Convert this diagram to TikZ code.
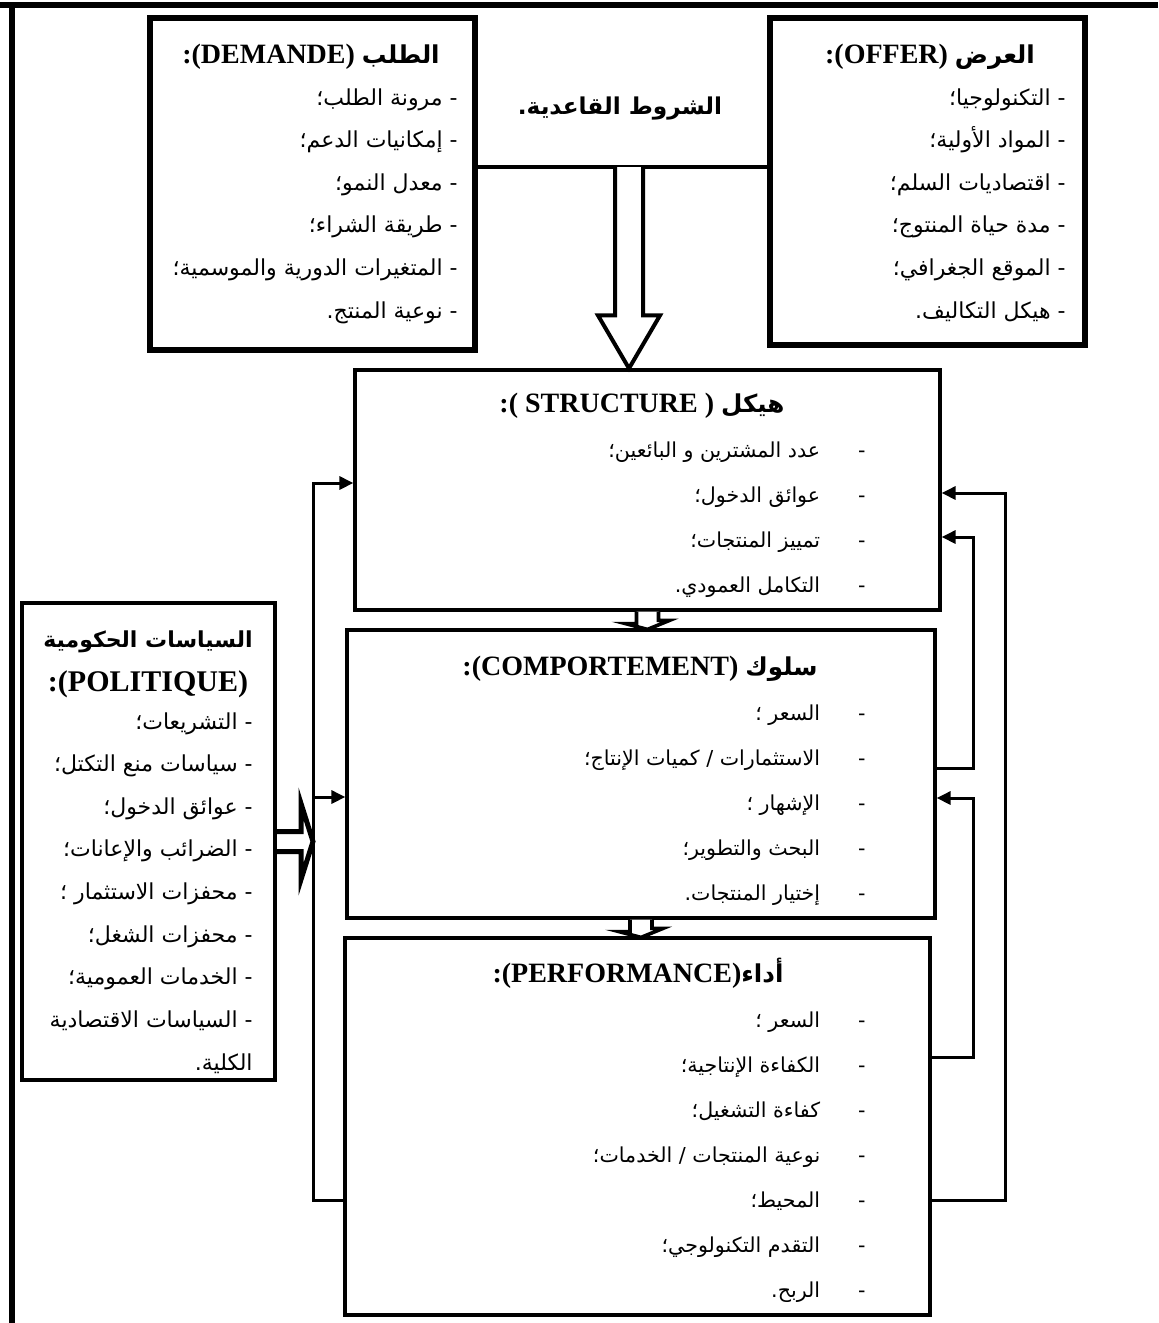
\documentclass[tikz,border=0pt]{standalone}
\usepackage{fontspec}
\setmainfont{Liberation Serif}
\newfontfamily\arabicfont[Script=Arabic]{DejaVu Sans}
\TeXXeTstate=1
\usetikzlibrary{calc,fit}
\usetikzlibrary{arrows.meta}
\newcommand{\arb}[1]{{\arabicfont\bfseries\fontsize{12.3}{14}\selectfont #1}}
\tikzset{
  every picture/.style={
    >={Triangle[length=7pt, width=6.5pt]}
  },
  box/.style={
    draw, inner sep=0pt, line width=1.6pt
  },
  heavy box/.style={box, line width=2.6pt},
  link/.style={line width=1.5pt},
  hollow/.style={line width=2pt, fill=white, line join=miter},
  item/.style={
    anchor=base east, inner sep=0pt,
    font=\arabicfont\fontsize{11}{13}\selectfont
  },
  core item/.style={item, font=\arabicfont\fontsize{10.3}{13}\selectfont},
  head/.style={
    anchor=base, inner sep=0pt,
    font=\rmfamily\bfseries\fontsize{14}{16}\selectfont
  }
}

\begin{document}
\begin{tikzpicture}[x=0.5pt, y=-0.5pt]
  \useasboundingbox (0,0) rectangle (1158,1323);
  \draw[line width=2.6pt] (0,5) -- (1158,5);
  \draw[line width=2.6pt] (12,5) -- (12,1323);

  % boxes
  \node[heavy box, fit={(150,18) (475,350)}] (dem) {};
  \node[heavy box, fit={(770,18) (1085,345)}] (off) {};
  \node[box, fit={(355,370) (940,610)}] (str) {};
  \node[box, fit={(347,630) (935,918)}] (comp) {};
  \node[box, fit={(345,938) (930,1315)}] (perf) {};
  \node[box, line width=2pt, fit={(22,603) (275,1080)}] (pol) {};

  % basic conditions
  \coordinate (base) at (629,167);
  \draw[link, line width=2pt] (dem.east |- base) -- (off.west |- base);
  \node[head, font=\arabicfont\bfseries\fontsize{11.6}{14}\selectfont] (cond) at (620,114) {\beginR الشروط القاعدية.\endR};
  \coordinate (tip) at (base |- str.north);
  \draw[hollow] ($(base)+(-14,0)$) -- ($(tip)+(-14,-53)$) -- ++(-17,0) -- (tip)
    -- ++(31,-53) -- ++(-17,0) -- ($(base)+(14,0)$);

  % demand
  \node[head] (dem-t) at (311,63) {\beginR\arb{الطلب} \beginL(DEMANDE)\endL:\endR};
  \foreach \t [count=\i] in {مرونة الطلب؛,%
    إمكانيات الدعم؛,%
    معدل النمو؛,%
    طريقة الشراء؛,%
    المتغيرات الدورية والموسمية؛,%
    نوعية المنتج.}
    \node[item] (dem-\i) at (458,{105+(\i-1)*42.6}) {\beginR- \t\endR};

  % offer
  \node[head] (off-t) at (930,63) {\beginR\arb{العرض} \beginL(OFFER)\endL:\endR};
  \foreach \t [count=\i] in {التكنولوجيا؛,%
    المواد الأولية؛,%
    اقتصاديات السلم؛,%
    مدة حياة المنتوج؛,%
    الموقع الجغرافي؛,%
    هيكل التكاليف.}
    \node[item] (off-\i) at (1066,{105+(\i-1)*42.6}) {\beginR- \t\endR};

  % structure
  \node[head] (str-t) at (642,412) {\beginR\arb{هيكل} \beginL( STRUCTURE )\endL:\endR};
  \foreach \t [count=\i] in {عدد المشترين و البائعين؛,%
    عوائق الدخول؛,%
    تمييز المنتجات؛,%
    التكامل العمودي.}
    \node[core item] (str-\i) at (866,{457+(\i-1)*45}) {\beginR-\hspace{19pt}\t\endR};

  % conduct
  \node[head] (comp-t) at (640,675) {\beginR\arb{سلوك} \beginL(COMPORTEMENT)\endL:\endR};
  \foreach \t [count=\i] in {السعر ؛,%
    الاستثمارات / كميات الإنتاج؛,%
    الإشهار ؛,%
    البحث والتطوير؛,%
    إختيار المنتجات.}
    \node[core item] (comp-\i) at (866,{720+(\i-1)*45}) {\beginR-\hspace{19pt}\t\endR};

  % performance
  \node[head] (perf-t) at (638,982) {\beginR\arb{أداء}\beginL(PERFORMANCE)\endL:\endR};
  \foreach \t [count=\i] in {السعر ؛,%
    الكفاءة الإنتاجية؛,%
    كفاءة التشغيل؛,%
    نوعية المنتجات / الخدمات؛,%
    المحيط؛,%
    التقدم التكنولوجي؛,%
    الربح.}
    \node[core item] (perf-\i) at (866,{1027+(\i-1)*45}) {\beginR-\hspace{19pt}\t\endR};

  % government policy
  \node[head, font=\arabicfont\bfseries\fontsize{11}{13}\selectfont] (pol-t) at (148,647) {\beginR السياسات الحكومية\endR};
  \node[head, font=\rmfamily\bfseries\fontsize{15}{17}\selectfont] (pol-t2) at (148,691) {\beginR\beginL(POLITIQUE)\endL:\endR};
  \foreach \t [count=\i] in {التشريعات؛,%
    سياسات منع التكتل؛,%
    عوائق الدخول؛,%
    الضرائب والإعانات؛,%
    محفزات الاستثمار ؛,%
    محفزات الشغل؛,%
    الخدمات العمومية؛,%
    السياسات الاقتصادية}
    \node[item] (pol-\i) at (253,{729+(\i-1)*42.6}) {\beginR- \t\endR};
  \node[item] (pol-9) at (253,1070) {\beginR الكلية.\endR};

  % links between the three blocks
  \draw[hollow, line width=1.8pt] ($(str.south)+(-11,0)$) -- ++(0,12) -- ++(-11,0)
    -- ($(str.south |- comp.north)+(0,1)$) -- ++(22,-9) -- ++(-11,0) -- ($(str.south)+(11,0)$);
  \draw[hollow, line width=1.8pt] ($(comp.south)+(-11,0)$) -- ++(0,12) -- ++(-11,0)
    -- ($(comp.south |- perf.north)+(0,1)$) -- ++(22,-9) -- ++(-11,0) -- ($(comp.south)+(11,0)$);

  % feedback, left
  \coordinate (lcorner) at (313,1200);
  \coordinate (str-l) at ($(str.west)+(0,-7)$);
  \coordinate (comp-l) at ($(comp.west)+(0,23)$);
  \draw[link,->] (perf.west |- lcorner) -- (lcorner) |- (str-l);
  \draw[link,->] (lcorner |- comp-l) -- (comp-l);
  \coordinate (pol-tip) at (lcorner |- pol.east);
  \draw[hollow, line width=2.5pt] ($(pol.east)+(0,-10)$) -- ($(pol-tip)+(-12,-10)$) -- ++(0,-28)
    -- (pol-tip) -- ++(-12,38) -- ++(0,-28) -- ($(pol.east)+(0,10)$);

  % feedback, right
  \coordinate (rout) at (1005,1200);
  \coordinate (rin-a) at (973,768);
  \coordinate (rin-b) at (973,1057);
  \coordinate (str-r1) at ($(str.east)+(0,3)$);
  \coordinate (str-r2) at ($(str.east)+(0,47)$);
  \coordinate (comp-r) at ($(comp.east)+(0,24)$);
  \draw[link,->] (perf.east |- rout) -- (rout) |- (str-r1);
  \draw[link,->] (comp.east |- rin-a) -- (rin-a) |- (str-r2);
  \draw[link,->] (perf.east |- rin-b) -- (rin-b) |- (comp-r);
\end{tikzpicture}
\end{document}
